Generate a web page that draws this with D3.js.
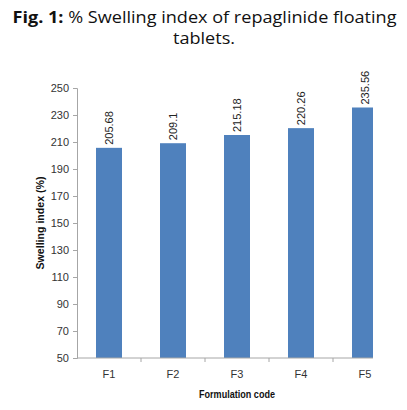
<!DOCTYPE html>
<html><head><meta charset="utf-8">
<script src="https://cdn.jsdelivr.net/npm/d3@7"></script>
<style>body{margin:0;background:#fff}svg{display:block}</style>
</head><body>
<script>
const categories = ["F1","F2","F3","F4","F5"];
const values = [205.68, 209.1, 215.18, 220.26, 235.56];
const valueLabels = ["205.68","209.1","215.18","220.26","235.56"];
const yTicks = [50,70,90,110,130,150,170,190,210,230,250];

const W = 407, H = 410;
const svg = d3.select("body").append("svg").attr("width", W).attr("height", H);

const pLeft = 77, pRight = 397, pTop = 88, pBottom = 358;
const xb = d3.scaleBand().domain(categories).range([pLeft, pRight]);
const y = d3.scaleLinear().domain([50, 250]).range([pBottom, pTop]);

svg.append("defs").append("clipPath").attr("id","clip")
  .append("rect").attr("x",0).attr("y",0).attr("width",373).attr("height",H);

const g = svg.append("g").attr("clip-path","url(#clip)");

// Title
const title = svg.append("text").attr("x", 204.5).attr("y", 23).attr("text-anchor","middle")
  .attr("font-family","Open Sans, DejaVu Sans").attr("font-size", 16.5).attr("fill","#111")
  .attr("textLength", 384).attr("lengthAdjust","spacingAndGlyphs");
title.append("tspan").attr("font-weight","bold").text("Fig. 1:");
title.append("tspan").text(" % Swelling index of repaglinide floating");
svg.append("text").attr("x", 204).attr("y", 44).attr("text-anchor","middle")
  .attr("font-family","Open Sans, DejaVu Sans").attr("font-size", 16.5).attr("fill","#111")
  .attr("textLength", 62).attr("lengthAdjust","spacingAndGlyphs").text("tablets.");

// Bars
g.selectAll("rect.bar").data(categories).enter().append("rect")
  .attr("x", d => xb(d) + xb.bandwidth()/2 - 13)
  .attr("width", 26)
  .attr("y", (d,i) => y(values[i]))
  .attr("height", (d,i) => pBottom - y(values[i]))
  .attr("fill", "#4f81bd");

// Value labels
g.selectAll("text.val").data(categories).enter().append("text")
  .attr("transform", (d,i) => `translate(${xb(d) + xb.bandwidth()/2 + 4},${y(values[i]) - 3}) rotate(-90)`)
  .attr("font-family","Liberation Sans").attr("font-size", 11).attr("fill","#222")
  .text((d,i) => valueLabels[i]);

// Y axis
const yAxis = d3.axisLeft(y).tickValues(yTicks).tickSize(4).tickPadding(4);
const ya = svg.append("g").attr("transform", `translate(${pLeft},0)`).call(yAxis);
ya.select(".domain").attr("stroke","#a6a6a6");
ya.selectAll(".tick line").attr("stroke","#a6a6a6");
ya.selectAll("text").attr("font-family","Liberation Sans Narrow, Liberation Sans").attr("font-size", 11).attr("fill","#333");

// X axis
const xa = g.append("g").attr("transform", `translate(0,${pBottom})`);
xa.append("line").attr("x1", pLeft).attr("x2", pRight).attr("y1",0).attr("y2",0).attr("stroke","#a6a6a6");
xa.selectAll("line.t").data(categories.slice(1)).enter().append("line")
  .attr("x1", d => xb(d)).attr("x2", d => xb(d)).attr("y1",0).attr("y2",4).attr("stroke","#a6a6a6");
xa.selectAll("text.xl").data(categories).enter().append("text")
  .attr("x", d => xb(d) + xb.bandwidth()/2).attr("y", 20).attr("text-anchor","middle")
  .attr("font-family","Liberation Sans Narrow, Liberation Sans").attr("font-size", 11).attr("fill","#333")
  .text(d => d);

// Axis titles
svg.append("text").attr("x", 237).attr("y", 398).attr("text-anchor","middle")
  .attr("font-family","Liberation Sans Narrow, Liberation Sans").attr("font-weight","bold").attr("font-size", 11)
  .attr("textLength", 76).attr("lengthAdjust","spacingAndGlyphs").attr("fill","#111").text("Formulation code");
svg.append("text").attr("transform", `translate(44,${(pTop+pBottom)/2}) rotate(-90)`).attr("text-anchor","middle")
  .attr("font-family","Liberation Sans Narrow, Liberation Sans").attr("font-weight","bold").attr("font-size", 11)
  .attr("textLength", 93).attr("lengthAdjust","spacingAndGlyphs").attr("fill","#111").text("Swelling index (%)");
</script>
</body></html>
